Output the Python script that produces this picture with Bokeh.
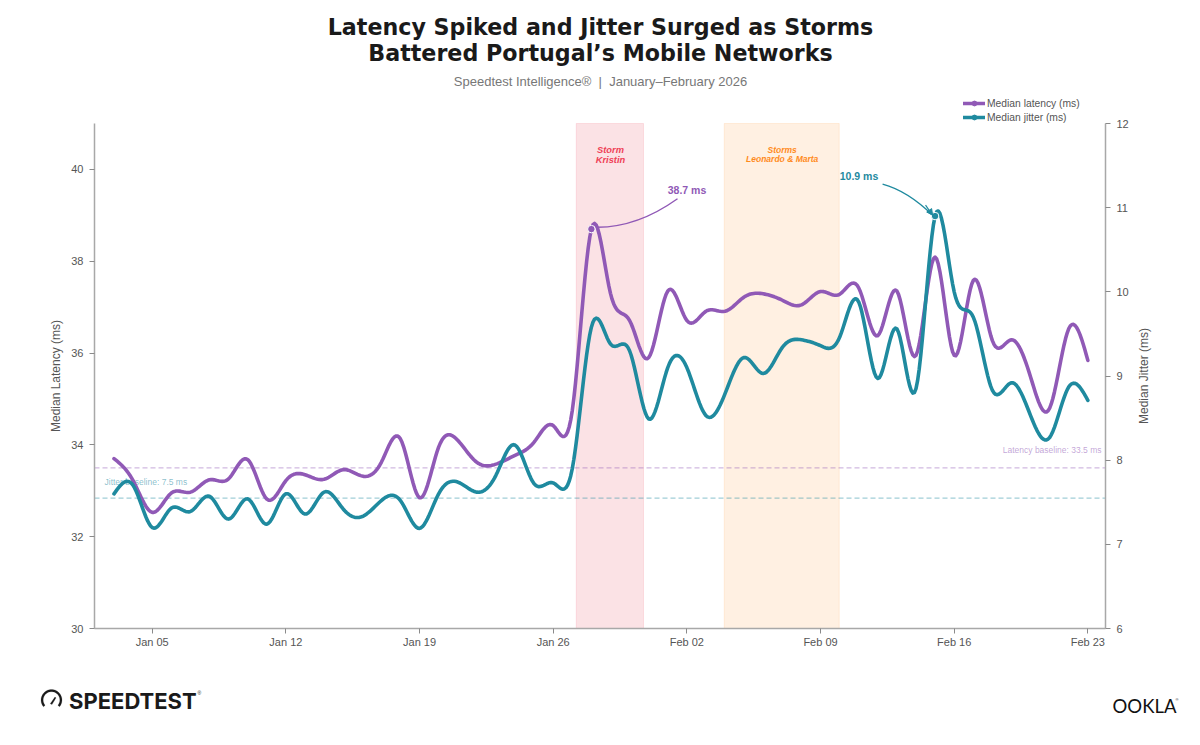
import numpy as np
import pandas as pd
from bokeh.embed import file_html
from bokeh.resources import INLINE
from bokeh.plotting import figure
from bokeh.models import (Range1d, LinearAxis, FixedTicker, DatetimeTickFormatter, BoxAnnotation,
                          Label, Legend, LegendItem, Arrow, NormalHead, PolyAnnotation)

# ---- data
start_date = "2026-01-03"
end_date = "2026-02-23"
latency = [33.70, 33.22, 32.53, 32.95, 32.97, 33.24, 33.26, 33.68, 32.82, 33.22, 33.35, 33.25, 33.46,
           33.32, 33.62, 34.13, 32.85, 33.95, 34.10, 33.62, 33.58, 33.77, 34.06, 34.42, 34.75, 38.70,
           37.30, 36.71, 35.90, 37.35, 36.71, 36.91, 36.91, 37.22, 37.29, 37.15, 37.05, 37.34, 37.28,
           37.42, 36.38, 37.35, 35.95, 38.09, 35.95, 37.58, 36.27, 36.29, 35.48, 34.80, 36.53, 35.84]
jitter = [7.60, 7.70, 7.20, 7.43, 7.39, 7.57, 7.30, 7.54, 7.24, 7.60, 7.36, 7.62, 7.42,
          7.33, 7.52, 7.52, 7.19, 7.60, 7.74, 7.62, 7.82, 8.18, 7.72, 7.73, 7.90, 9.58,
          9.38, 9.30, 8.49, 9.10, 9.10, 8.53, 8.79, 9.22, 9.03, 9.34, 9.43, 9.36, 9.46,
          9.88, 8.97, 9.56, 8.85, 10.90, 10.00, 9.70, 8.83, 8.92, 8.53, 8.27, 8.87, 8.71]
x_ticks = ["2026-01-05", "2026-01-12", "2026-01-19", "2026-01-26", "2026-02-02", "2026-02-09", "2026-02-16", "2026-02-23"]
latency_ticks = [30, 32, 34, 36, 38, 40]
jitter_ticks = [6, 7, 8, 9, 10, 11, 12]
latency_baseline = 33.5
jitter_baseline = 7.55
latency_peak_date, jitter_peak_date = "2026-01-28", "2026-02-15"
kristin_span = ("2026-01-27 05:00", "2026-01-30 17:30")
leonardo_span = ("2026-02-03 23:00", "2026-02-09 23:30")

PURPLE = "#9059b6"
TEAL = "#1f8a9f"
GREY = "#555555"
FONT = "Liberation Sans"
W, H = 1200, 745
# the frame fills the page so that titles, legend and footer marks are not clipped;
# the axes are pinned to the plot rectangle (x 94..1105, y 123..628)
L, R, T, B = 94, 1105, 123, 628
DAY = 86400000.0
PX_DAY = 19.095
X0_PX = 151.7  # page x of Jan 05


def ms(d):
    return pd.Timestamp(d).value / 1e6


JAN5 = ms("2026-01-05")
PX_LAT = (B - T) / 11
PX_JIT = (B - T) / 6


def spline(x, y, n=12):
    """Natural cubic spline through the read daily values: the reference's line is a smoothed curve."""
    x, y = np.asarray(x, float), np.asarray(y, float)
    h = np.diff(x)
    A = np.zeros((len(x), len(x)))
    b = np.zeros(len(x))
    A[0, 0] = A[-1, -1] = 1
    for i in range(1, len(x) - 1):
        A[i, i - 1], A[i, i], A[i, i + 1] = h[i - 1], 2 * (h[i - 1] + h[i]), h[i]
        b[i] = 6 * ((y[i + 1] - y[i]) / h[i] - (y[i] - y[i - 1]) / h[i - 1])
    m = np.linalg.solve(A, b)
    xs, ys = [], []
    for i in range(len(x) - 1):
        t = np.linspace(0, 1, n, endpoint=False)
        a, c = 1 - t, t
        xs.append(x[i] + t * h[i])
        ys.append(a * y[i] + c * y[i + 1] + ((a ** 3 - a) * m[i] + (c ** 3 - c) * m[i + 1]) * h[i] ** 2 / 6)
    return np.append(np.concatenate(xs), x[-1]), np.append(np.concatenate(ys), y[-1])


dates = pd.date_range(start_date, end_date)
xms = np.array([ms(d) for d in dates])

p = figure(width=W, height=H, x_axis_type="datetime", output_backend="svg", toolbar_location=None,
           min_border=0, min_border_left=0, min_border_right=0, min_border_top=0, min_border_bottom=0,
           x_range=Range1d(JAN5 - X0_PX / PX_DAY * DAY, JAN5 + (W - X0_PX) / PX_DAY * DAY),
           y_range=Range1d(30 - (H - B) / PX_LAT, 41 + T / PX_LAT),
           outline_line_color=None, background_fill_color="white", border_fill_color="white")
p.extra_y_ranges = {"jitter": Range1d(6 - (H - B) / PX_JIT, 12 + T / PX_JIT)}
p.grid.visible = False

x_left = JAN5 + (L - X0_PX) / PX_DAY * DAY
x_right = JAN5 + (R - X0_PX) / PX_DAY * DAY

ax = p.xaxis[0]
ax.ticker = FixedTicker(ticks=[ms(t) for t in x_ticks])
ax.formatter = DatetimeTickFormatter(days="%b %d", months="%b %d", hours="%b %d")
ax.fixed_location = 30
ax.bounds = (x_left, x_right)
ay = p.yaxis[0]
ay.ticker = FixedTicker(ticks=latency_ticks)
ay.fixed_location = x_left
ay.bounds = (30, 41)
ar = LinearAxis(y_range_name="jitter", ticker=FixedTicker(ticks=jitter_ticks), fixed_location=x_right, bounds=(6, 12))
p.add_layout(ar, "right")
for a in (ax, ay, ar):
    a.axis_line_color = "#a8a8a8"
    a.axis_line_width = 1.5
    a.major_tick_line_color = "#8a8a8a"
    a.major_tick_line_width = 1
    a.major_tick_in = 0
    a.major_tick_out = 5
    a.minor_tick_line_color = None
    a.major_label_text_font = FONT
    a.major_label_text_font_size = "11px"
    a.major_label_text_color = GREY
    a.major_label_standoff = 6
ax.major_label_standoff = 2

# storm windows
p.add_layout(BoxAnnotation(left=ms(kristin_span[0]), right=ms(kristin_span[1]), bottom=30, top=41, fill_color="#e84a60",
                           fill_alpha=0.16, line_color="#ef4a60", line_alpha=0.14, line_width=1, level="underlay"))
p.add_layout(BoxAnnotation(left=ms(leonardo_span[0]), right=ms(leonardo_span[1]), bottom=30, top=41, fill_color="#ff9a3c",
                           fill_alpha=0.15, line_color="#ff9a3c", line_alpha=0.14, line_width=1, level="underlay"))

# baselines
p.line([x_left, x_right], [latency_baseline, latency_baseline], line_color=PURPLE, line_alpha=0.42, line_width=1.2, line_dash="5 3")
p.line([x_left, x_right], [jitter_baseline, jitter_baseline], y_range_name="jitter", line_color=TEAL, line_alpha=0.42,
       line_width=1.2, line_dash="5 3")


def txt(x, y, text, size, color, style="normal", align="center", font=FONT, alpha=1.0, angle=0, level="annotation"):
    """x, y are page pixels of the text's anchor."""
    p.add_layout(Label(x=x, y=y, x_units="canvas", y_units="canvas", text=text, text_font=font, angle=angle,
                       text_font_size=f"{size}px", text_color=color, text_font_style=style, text_align=align,
                       text_baseline="middle", text_alpha=alpha, level=level))


txt(600, 26, "Latency Spiked and Jitter Surged as Storms", 22.2, "#1a1a1a", "bold", font="DejaVu Sans")
txt(600, 52, "Battered Portugal\u2019s Mobile Networks", 22.2, "#1a1a1a", "bold", font="DejaVu Sans")
txt(600, 81, "Speedtest Intelligence\u00ae\u00a0\u00a0|\u00a0\u00a0January\u2013February 2026", 13, "#777777")
txt(55, 375.5, "Median Latency (ms)", 12, GREY, angle=np.pi / 2)
txt(1143.5, 375.5, "Median Jitter (ms)", 12, GREY, angle=np.pi / 2)
txt(610, 149.3, "Storm", 9.3, "#ef3f56", "bold italic")
txt(610, 159.2, "Kristin", 9.3, "#ef3f56", "bold italic")
txt(781.7, 149.2, "Storms", 8.5, "#ff8a1c", "bold italic")
txt(781.7, 158.2, "Leonardo & Marta", 8.5, "#ff8a1c", "bold italic")
txt(104, 481, "Jitter baseline: 7.5 ms", 8.5, TEAL, align="left", alpha=0.55, level="underlay")
txt(1101, 449.5, "Latency baseline: 33.5 ms", 8.5, PURPLE, align="right", alpha=0.55, level="underlay")
txt(686.5, 189.5, "38.7 ms", 10.5, PURPLE, "bold")
txt(858.5, 175, "10.9 ms", 10.5, TEAL, "bold")

# series
lx, ly = spline(xms, latency)
jx, jy = spline(xms, jitter)
r_l = p.line(lx, ly, line_color=PURPLE, line_width=3.6, line_cap="round", line_join="round")
r_j = p.line(jx, jy, line_color=TEAL, line_width=3.6, line_cap="round", line_join="round", y_range_name="jitter")

# peak call-outs
li = list(dates).index(pd.Timestamp(latency_peak_date))
ji = list(dates).index(pd.Timestamp(jitter_peak_date))
p.quadratic(x0=[xms[li] + 0.32 * DAY], y0=[38.74], cx=[xms[li] + 2.42 * DAY], cy=[38.74],
            x1=[xms[li] + 4.51 * DAY], y1=[39.36], line_color=PURPLE, line_width=1.4)
p.quadratic(x0=[xms[ji] - 2.75 * DAY], y0=[11.28], cx=[xms[ji] - 1.44 * DAY], cy=[11.20],
            x1=[xms[ji] - 0.13 * DAY], y1=[10.91], line_color=TEAL, line_width=1.4, y_range_name="jitter")
p.add_layout(Arrow(end=NormalHead(size=6, fill_color=TEAL, line_color=TEAL), x_start=xms[ji] - 0.5 * DAY, y_start=11.03,
                   x_end=xms[ji] - 0.13 * DAY, y_end=10.91, line_color=TEAL, line_width=1.2, y_range_name="jitter"))
p.scatter([xms[li]], [latency[li]], size=7.5, fill_color=PURPLE, line_color="white", line_width=1)
p.scatter([xms[ji]], [jitter[ji]], size=7.5, fill_color=TEAL, line_color="white", line_width=1, y_range_name="jitter")
# legend keys: a line with a plain dot (y is NaN, so the dot is only drawn in the legend)
k_l = p.scatter([xms[li]], [float("nan")], size=7.5, fill_color=PURPLE, line_color=PURPLE)
k_j = p.scatter([xms[ji]], [float("nan")], size=7.5, fill_color=TEAL, line_color=TEAL, y_range_name="jitter")

leg = Legend(items=[LegendItem(label="Median latency (ms)", renderers=[r_l, k_l]),
                    LegendItem(label="Median jitter (ms)", renderers=[r_j, k_j])],
             location=(963, H - 123), orientation="vertical", background_fill_alpha=0, border_line_color=None,
             label_text_font=FONT, label_text_font_size="10.3px", label_text_color=GREY, glyph_width=22,
             glyph_height=12, label_height=12, label_standoff=2, spacing=2, margin=0, padding=0)
p.add_layout(leg, "center")

# footer marks
t = np.linspace(np.radians(-40), np.radians(220), 30)
cx, cy, ro, ri = 51, H - 699.5, 10.5, 8.3
p.add_layout(PolyAnnotation(xs=list(np.r_[cx + ro * np.cos(t), cx + ri * np.cos(t[::-1])]),
                            ys=list(np.r_[cy + ro * np.sin(t), cy + ri * np.sin(t[::-1])]),
                            xs_units="screen", ys_units="screen", fill_color="#1a1a1a", fill_alpha=1, line_color="#1a1a1a",
                            line_width=0.5, level="annotation"))
p.add_layout(PolyAnnotation(xs=[cx - 1.3, cx + 3.4, cx + 4.6, cx + 0.5], ys=[cy - 3.8, cy + 3.0, cy + 2.2, cy - 4.6],
                            xs_units="screen", ys_units="screen", fill_color="#1a1a1a", fill_alpha=1, line_color="#1a1a1a",
                            line_width=0.5, level="annotation"))
txt(68.5, 700, "SPEEDTEST", 22, "#1a1a1a", "bold", align="left", font="Inter")
txt(197, 692, "\u00ae", 5, "#1a1a1a", align="left")
txt(1144, 705, "OOKLA", 18.5, "#111111", align="center", font="Lato")
txt(1175, 699, "\u00ae", 4, "#1a1a1a", align="left")

open("out.html", "w").write(file_html(p, INLINE))
